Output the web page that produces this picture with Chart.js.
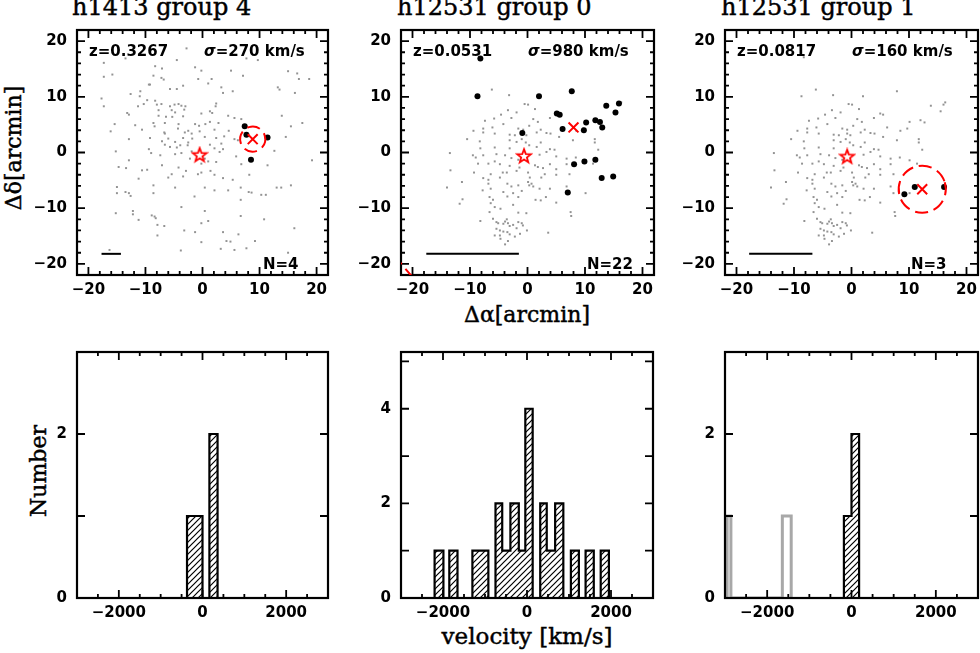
<!DOCTYPE html>
<html><head><meta charset="utf-8">
<script src="https://cdn.jsdelivr.net/npm/chart.js@4.4.0/dist/chart.umd.min.js"></script>
<style>
html,body{margin:0;padding:0;background:#fff;width:980px;height:653px;overflow:hidden;position:relative;}
canvas{position:absolute;}
.t{position:absolute;font-family:'DejaVu Serif',serif;color:#000;white-space:nowrap;line-height:1;-webkit-text-stroke:0.45px #000;}
.c{transform:translate(-50%,-50%);}
.r{transform:translate(-50%,-50%) rotate(-90deg);}
</style></head><body>
<div class="t" style="left:72px;top:-5px;font-size:24px">h1413 group 4</div>
<div class="t" style="left:397px;top:-5px;font-size:24px">h12531 group 0</div>
<div class="t" style="left:721px;top:-5px;font-size:24px">h12531 group 1</div>
<div class="t r" style="left:14px;top:148px;font-size:22px">Δδ[arcmin]</div>
<div class="t c" style="left:527px;top:315px;font-size:22px">Δα[arcmin]</div>
<div class="t r" style="left:39px;top:471px;font-size:22px">Number</div>
<div class="t c" style="left:527px;top:636px;font-size:23px">velocity [km/s]</div>
<script>
// ---------------- DATA ----------------
const panelTitles = ['h1413 group 4','h12531 group 0','h12531 group 1'];
const redshifts = ['0.3267','0.0531','0.0817'];
const sigmas = [270, 980, 160];
const memberCounts = [4, 22, 3];
const positionTicks = [-20, -10, 0, 10, 20];
const velocityTicks = [-2000, 0, 2000];
const numberTicks = [0, 2, 4];

const fieldH1413 = [[-2.8,18.7],[-17.3,16.1],[-13.5,16.9],[-4.5,16.6],[-1.3,15.3],[-8.3,15.5],[-7.1,15.1],[7.7,16.9],[9.7,16.6],[-0.2,14.7],[-8.6,13.8],[-7.2,13.4],[-6.8,13.1],[-17.3,13.6],[-15.8,14.0],[-0.75,13.2],[1.6,13.2],[5.0,14.7],[7.1,13.8],[15.0,14.6],[16.6,14.2],[16.9,13.2],[18.7,13.2],[1.0,12.4],[-9.4,12.2],[-9.2,12.2],[-3.4,12.0],[-5.7,11.4],[-4.5,11.4],[13.2,11.7],[13.5,11.3],[3.3,11.7],[-10.9,11.0],[-12.6,10.5],[-11.0,10.1],[5.3,11.0],[3.6,10.7],[16.2,10.7],[-17.7,9.7],[-9.7,9.4],[-10.3,8.7],[-8.3,9.3],[-8.0,8.6],[-7.2,8.7],[-5.7,8.3],[-4.9,8.6],[-4.2,8.7],[-3.7,8.4],[-3.0,8.3],[2.4,8.8],[2.3,8.3],[-17.3,8.3],[-11.3,8.3],[-13.2,7.1],[-12.9,6.8],[-7.7,7.6],[-5.4,7.6],[-4.8,7.2],[-3.2,7.7],[1.3,7.4],[1.7,7.1],[-0.2,7.0],[-7.7,6.6],[-6.4,6.4],[-5.3,6.4],[-3.4,6.5],[4.5,6.6],[5.6,6.2],[13.9,6.6],[-15.4,5.1],[-11.8,4.9],[-8.6,5.3],[-8.4,4.7],[-6.6,5.3],[-4.2,5.1],[-1.3,5.1],[-0.6,4.8],[0.5,5.1],[1.3,5.5],[2.8,5.3],[6.8,6.0],[15.5,4.7],[17.5,5.3],[-16.1,3.8],[-10.6,4.1],[-6.7,3.6],[-6.6,3.4],[-4.3,4.3],[-3.1,3.6],[-1.9,3.4],[-2.5,3.9],[-0.5,3.8],[2.1,4.1],[4.6,3.9],[-12.9,2.4],[-9.2,2.6],[-7.1,2.0],[-6.0,2.5],[-4.8,1.9],[-3.4,2.6],[-2.5,1.8],[-1.8,2.5],[0.4,2.8],[2.4,2.6],[3.8,2.9],[5.6,2.4],[6.2,2.2],[14.6,2.8],[-6.6,1.4],[-5.7,1.0],[-4.5,0.9],[-3.9,1.3],[-2.6,1.3],[1.3,1.4],[3.3,1.6],[2.1,0.75],[-15.2,0.2],[-9.4,0.6],[-9.0,-0.1],[-7.4,-0.5],[-4.8,-0.3],[-3.7,-0.1],[-1.9,0.2],[3.0,0.1],[3.6,0.6],[5.9,-0.7],[12.6,0.3],[-12.9,-1.4],[-2.2,-1.1],[0.4,-1.1],[1.0,-1.6],[2.4,-1.7],[19.2,-1.4],[-14.7,-2.6],[-13.4,-2.8],[-7.1,-2.3],[-4.2,-2.7],[-0.2,-2.0],[1.4,-3.3],[6.8,-2.1],[11.4,-2.3],[-10.6,-3.2],[-9.7,-3.1],[-2.9,-3.3],[-0.2,-3.6],[-0.8,-3.9],[-5.4,-3.9],[-6.0,-4.5],[-3.4,-4.3],[2.1,-4.0],[3.6,-4.6],[5.3,-4.9],[8.2,-4.0],[-11.2,-4.7],[-15.0,-6.2],[-8.6,-5.9],[-4.8,-6.3],[0.4,-6.3],[2.1,-6.8],[4.5,-6.8],[8.1,-7.1],[8.6,-7.2],[6.7,-6.3],[13.0,-6.3],[13.8,-6.3],[15.5,-5.9],[-15.0,-7.3],[-13.5,-7.1],[-12.9,-7.3],[-12.6,-7.8],[-8.6,-7.3],[-1.4,-7.9],[6.7,-8.5],[10.3,-7.6],[11.1,-7.6],[-3.7,-9.8],[-12.2,-10.5],[-12.2,-11.1],[-15.2,-10.9],[0.4,-10.5],[-8.9,-11.3],[-8.4,-11.5],[-8.2,-11.8],[-11.2,-12.1],[1.0,-12.3],[6.7,-11.4],[10.8,-12.0],[-0.2,-12.7],[-7.9,-13.0],[-6.7,-13.2],[-3.2,-14.0],[-1.3,-14.3],[-7.9,-14.9],[3.6,-14.3],[6.3,-14.7],[16.1,-13.6],[4.2,-15.9],[4.9,-16.0],[9.2,-15.9],[3.2,-17.3],[5.6,-17.5],[7.7,-17.2],[-3.8,-17.6],[-16.3,-17.5],[-0.2,-16.1],[15.0,-18.0]];

const fieldH12531 = [[-8.3,17.1],[-6.2,11.3],[-3.2,10.3],[-8.7,10.1],[2.0,10.1],[7.9,11.0],[-0.5,8.7],[0.1,8.6],[16.3,9.0],[16.0,8.6],[13.8,8.4],[-4.6,6.8],[-3.4,7.6],[-1.9,7.2],[1.3,7.8],[5.0,7.0],[5.5,6.8],[15.5,7.4],[-5.8,6.1],[-7.4,5.7],[-2.8,6.2],[1.0,6.0],[1.8,5.5],[3.9,6.2],[12.0,5.8],[12.7,5.4],[10.1,5.5],[-7.7,4.3],[-6.1,4.5],[-4.2,5.1],[-1.6,4.3],[-0.75,4.1],[0.3,4.8],[2.3,4.1],[6.2,4.5],[8.5,3.9],[9.7,4.3],[-9.4,3.9],[-7.7,3.6],[-5.7,3.4],[-3.1,3.2],[-2.2,3.1],[-0.75,3.4],[-0.2,3.1],[1.6,3.6],[3.3,3.5],[4.0,3.4],[5.5,2.8],[-10.5,2.4],[-8.3,2.0],[-3.1,2.2],[-1.9,1.9],[-1.0,2.4],[-0.3,1.8],[0.3,1.3],[2.3,1.8],[7.9,2.2],[11.7,2.4],[11.7,1.8],[-8.2,0.75],[-5.7,0.9],[-3.1,0.75],[1.6,1.0],[3.9,0.6],[4.7,0.5],[12.3,0.5],[-13.5,-0.1],[-9.5,-0.5],[-9.0,-0.9],[-7.7,-0.5],[-5.4,-0.3],[-3.9,-0.5],[-2.8,-1.0],[-1.6,-1.3],[2.1,-0.4],[3.3,0.1],[5.0,-0.7],[6.8,-1.1],[8.4,-0.9],[10.1,-1.4],[11.4,-2.0],[-8.6,-2.0],[-6.8,-2.0],[-5.7,-1.6],[-4.8,-2.1],[-3.1,-2.4],[-1.4,-2.7],[1.3,-2.3],[1.8,-2.6],[2.7,-2.8],[3.9,-2.1],[6.8,-2.1],[5.0,-3.0],[-13.4,-3.2],[-9.3,-3.6],[-6.4,-3.9],[-4.3,-3.6],[-3.6,-3.6],[-1.9,-3.3],[0.1,-3.6],[3.0,-3.9],[5.0,-4.0],[7.3,-3.9],[-7.7,-4.6],[-6.8,-4.9],[-4.8,-4.5],[0.4,-4.5],[2.4,-4.5],[0.1,-5.3],[0.7,-5.6],[0.3,-5.9],[1.0,-6.1],[-11.4,-5.3],[-6.8,-5.6],[-3.5,-5.6],[-2.8,-6.1],[-1.6,-5.9],[6.8,-6.1],[-14.0,-6.3],[-7.8,-6.8],[-6.4,-6.5],[-4.2,-7.1],[-2.5,-7.3],[-1.0,-6.9],[2.1,-6.5],[3.9,-6.5],[7.3,-7.3],[10.1,-7.3],[-11.3,-8.4],[-6.6,-8.0],[-6.0,-8.5],[-3.5,-7.9],[-1.6,-8.0],[1.4,-8.5],[2.3,-8.6],[3.2,-8.0],[5.0,-9.0],[-11.8,-9.2],[-6.4,-9.1],[-2.5,-9.4],[-5.7,-9.8],[-4.7,-10.1],[7.5,-10.7],[7.6,-11.4],[-6.6,-10.7],[-1.6,-10.8],[-0.2,-10.9],[-8.2,-12.3],[-6.0,-11.9],[-3.6,-12.0],[-5.4,-12.5],[-5.1,-12.7],[-4.2,-12.8],[-3.9,-12.4],[-3.4,-12.7],[-3.1,-13.2],[-2.5,-13.0],[-1.9,-13.6],[-1.0,-12.7],[-0.1,-14.0],[-5.4,-13.7],[-4.8,-14.0],[-4.2,-14.2],[-3.5,-14.3],[-3.1,-14.7],[-2.2,-15.1],[-4.8,-14.9],[-4.7,-15.5],[-3.4,-15.9],[-3.9,-16.5],[-5.7,-14.9],[3.6,-14.4],[-1.3,-14.6],[-1.6,-12.5],[-0.8,-13.1]];

const membersG4 = [[7.4,4.7],[7.7,3.2],[11.4,2.7],[8.5,-1.3]];
const membersG0 = [[-8.2,16.9],[-8.7,10.1],[2.0,10.1],[7.7,11.0],[5.1,7.0],[5.6,6.8],[-0.9,3.5],[6.1,4.2],[9.8,4.0],[10.2,5.4],[11.8,5.8],[12.6,5.5],[13.0,4.5],[13.7,8.4],[15.3,7.2],[15.9,8.8],[8.1,-2.1],[9.9,-1.6],[11.8,-1.3],[12.9,-4.6],[14.9,-4.3],[7.0,-7.2]];
const membersG1 = [[9.2,-7.5],[11.0,-6.2],[16.1,-6.2]];

const groupCenters = [[8.8,2.4],[8.0,4.5],[12.3,-6.6]];
const groupRadii = [2.2, 38.2, 4.1];
const clusterCenters = [[-0.5,-0.4],[-0.6,-0.6],[-0.75,-0.7]];
const scaleBarStart = [-17.7, -17.6, -17.8];
const scaleBarEnd = [-14.3, -1.5, -6.8];
const scaleBarDec = -18.2;

// histograms: bin left edge, right edge, count
const histG4Left = [-370, 165];
const histG4Right = [0, 360];
const histG4Count = [1, 2];
const histG0Left = [-2200, -1850, -1300, -750, -590, -395, -195, -40, 315, 470, 670, 1045, 1395, 1755];
const histG0Right = [-1990, -1655, -920, -590, -395, -195, -40, 135, 470, 670, 865, 1235, 1590, 1950];
const histG0Count = [1, 1, 1, 2, 1, 2, 1, 4, 2, 1, 2, 1, 1, 1];
const histG1Left = [-180, 0];
const histG1Right = [0, 180];
const histG1Count = [1, 2];
const histG1OtherLeft = [-2950, -1640];
const histG1OtherRight = [-2860, -1430];
const histG1OtherCount = [1, 1];
const histYMax = [3, 5.2, 3];

// ---------------- HELPERS ----------------
const fmt = v => v < 0 ? '\u2212' + Math.abs(v) : String(v);
const pts = arr => arr.map(p => ({x: p[0], y: p[1]}));

function starImage() {
  const c = document.createElement('canvas'); c.width = 18; c.height = 18;
  const g = c.getContext('2d'); g.strokeStyle = '#ff0000'; g.lineWidth = 1.8; g.lineJoin = 'miter';
  g.beginPath();
  for (let i = 0; i < 10; i++) {
    const r = i % 2 ? 3.0 : 7.2, a = -Math.PI / 2 + i * Math.PI / 5;
    const px = 9 + r * Math.cos(a), py = 9.6 + r * Math.sin(a);
    i ? g.lineTo(px, py) : g.moveTo(px, py);
  }
  g.closePath(); g.stroke(); return c;
}
function hatch(color) {
  const c = document.createElement('canvas'); c.width = 6; c.height = 6;
  const g = c.getContext('2d'); g.strokeStyle = color; g.lineWidth = 1.2;
  g.beginPath(); g.moveTo(-1, 7); g.lineTo(7, -1); g.moveTo(-2, 2); g.lineTo(2, -2); g.moveTo(4, 8); g.lineTo(8, 4); g.stroke();
  return g.createPattern(c, 'repeat');
}
function outline(L, R, C) {
  const out = [], n = L.length;
  for (let i = 0; i < n; i++) {
    const prev = i > 0 && Math.abs(R[i - 1] - L[i]) < 1;
    const next = i < n - 1 && Math.abs(R[i] - L[i + 1]) < 1;
    if (!prev) out.push({x: L[i], y: 0});
    out.push({x: L[i], y: C[i]});
    out.push({x: R[i], y: C[i]});
    if (!next) out.push({x: R[i], y: 0});
  }
  return out;
}

const framePlugin = {
  id: 'frame',
  afterDatasetsDraw(chart, args, o) {
    const {ctx, chartArea: a, scales} = chart;
    ctx.save();
    ctx.strokeStyle = '#000'; ctx.lineWidth = 1.8;
    ctx.beginPath();
    const tick = (axis, s, step, len) => {
      if (!step) return;
      const i0 = Math.ceil(s.min / step - 1e-9), i1 = Math.floor(s.max / step + 1e-9);
      for (let i = i0; i <= i1; i++) {
        const p = s.getPixelForValue(i * step);
        if (axis === 'x') { ctx.moveTo(p, a.bottom); ctx.lineTo(p, a.bottom - len); ctx.moveTo(p, a.top); ctx.lineTo(p, a.top + len); }
        else { ctx.moveTo(a.left, p); ctx.lineTo(a.left + len, p); ctx.moveTo(a.right, p); ctx.lineTo(a.right - len, p); }
      }
    };
    tick('x', scales.x, o.xMinor, 4); tick('x', scales.x, o.xMajor, 8);
    tick('y', scales.y, o.yMinor, 4); tick('y', scales.y, o.yMajor, 8);
    ctx.stroke();
    ctx.lineWidth = 2.2;
    ctx.strokeRect(a.left, a.top, a.right - a.left, a.bottom - a.top);
    ctx.restore();
  }
};
const circlePlugin = {
  id: 'grpcircle',
  afterDatasetsDraw(chart, args, o) {
    if (!o.center) return;
    const {ctx, chartArea: a, scales} = chart;
    const cx = scales.x.getPixelForValue(o.center[0]), cy = scales.y.getPixelForValue(o.center[1]);
    const r = scales.x.getPixelForValue(o.center[0] + o.radius) - cx;
    ctx.save();
    ctx.beginPath(); ctx.rect(a.left, a.top, a.right - a.left, a.bottom - a.top); ctx.clip();
    ctx.strokeStyle = '#ff0000'; ctx.lineWidth = 2; ctx.setLineDash([13, 6]);
    ctx.beginPath(); ctx.arc(cx, cy, r, -0.3, Math.PI * 2 - 0.3); ctx.stroke();
    ctx.restore();
  }
};
const notesPlugin = {
  id: 'notes',
  afterDraw(chart, args, o) {
    if (!o.items) return;
    const {ctx, chartArea: a} = chart;
    ctx.save(); ctx.fillStyle = '#000'; ctx.textBaseline = 'alphabetic'; ctx.textAlign = 'left';
    for (const it of o.items) {
      let x = a.left + it.dx;
      for (const part of it.parts) {
        ctx.font = (part.italic ? 'italic ' : '') + 'bold 15px "DejaVu Sans"';
        ctx.fillText(part.t, x, a.top + it.dy);
        x += ctx.measureText(part.t).width;
      }
    }
    ctx.restore();
  }
};
Chart.register(framePlugin, circlePlugin, notesPlugin);

function makeCanvas(L, T, W, H) {
  const c = document.createElement('canvas');
  const cw = W + 90, ch = H + 40;
  c.width = cw; c.height = ch;
  c.style.left = (L - 70) + 'px'; c.style.top = (T - 10) + 'px';
  c.style.width = cw + 'px'; c.style.height = ch + 'px';
  document.body.appendChild(c);
  return c;
}
const tickFont = {family: 'DejaVu Sans', weight: 'bold', size: 15};
function axes(xmin, xmax, xTicks, ymin, ymax, yTicks) {
  const setTicks = arr => function (s) { s.ticks = arr.filter(v => v >= s.min && v <= s.max).map(v => ({value: v})); };
  return {
    x: {type: 'linear', min: xmin, max: xmax, grid: {display: false, drawTicks: false}, border: {display: false},
        ticks: {autoSkip: false, maxRotation: 0, padding: 6, color: '#000', font: tickFont, callback: fmt},
        afterBuildTicks: setTicks(xTicks),
        afterFit(s) { s.height = 30; }},
    y: {type: 'linear', min: ymin, max: ymax, grid: {display: false, drawTicks: false}, border: {display: false},
        ticks: {autoSkip: false, padding: 10, color: '#000', font: tickFont, callback: fmt},
        afterBuildTicks: setTicks(yTicks),
        afterFit(s) { s.width = 70; }}
  };
}
const baseOpts = {responsive: false, animation: false, events: [], devicePixelRatio: 1,
  layout: {padding: {top: 10, right: 20, left: 0, bottom: 0}}};

// ---------------- TOP PANELS ----------------
const topGeom = [[77, 21, 251, 254], [401, 21, 253, 254], [725, 21, 253, 254]];
const fields = [fieldH1413, fieldH12531, fieldH12531];
const members = [membersG4, membersG0, membersG1];
const star = starImage();
topGeom.forEach((g, i) => {
  const c = makeCanvas(...g);
  new Chart(c, {
    type: 'scatter',
    data: {datasets: [
      {data: pts([groupCenters[i]]), pointStyle: 'crossRot', pointRadius: 7, borderColor: '#ff0000', borderWidth: 2, backgroundColor: '#ff0000'},
      {data: pts([clusterCenters[i]]), pointStyle: star, pointRadius: 9},
      {data: [{x: scaleBarStart[i], y: scaleBarDec}, {x: scaleBarEnd[i], y: scaleBarDec}], showLine: true, pointRadius: 0, borderColor: '#000', borderWidth: 2},
      {data: pts(members[i]), pointStyle: 'circle', pointRadius: 3, backgroundColor: '#000', borderWidth: 0},
      {data: pts(fields[i]), pointStyle: 'rect', pointRadius: 1.4, backgroundColor: '#939393', borderWidth: 0}
    ]},
    options: Object.assign({}, baseOpts, {
      scales: axes(-22, 22, positionTicks, -22, 22, positionTicks),
      plugins: {legend: {display: false}, tooltip: {enabled: false},
        frame: {xMinor: 2, xMajor: 10, yMinor: 2, yMajor: 10},
        grpcircle: {center: groupCenters[i], radius: groupRadii[i]},
        notes: {items: [
          {dx: 12, dy: 26, parts: [{t: 'z=' + redshifts[i]}]},
          {dx: 127, dy: 26, parts: [{t: 'σ', italic: true}, {t: '=' + sigmas[i] + ' km/s'}]},
          {dx: 186, dy: 239, parts: [{t: 'N=' + memberCounts[i]}]}
        ]}}
    })
  });
});

// ---------------- BOTTOM PANELS ----------------
const botGeom = [[77, 343, 251, 255], [401, 343, 252, 255], [725, 343, 253, 255]];
const hists = [
  [outline(histG4Left, histG4Right, histG4Count)],
  [outline(histG0Left, histG0Right, histG0Count)],
  [outline(histG1Left, histG1Right, histG1Count), outline(histG1OtherLeft, histG1OtherRight, histG1OtherCount)]
];
botGeom.forEach((g, i) => {
  const c = makeCanvas(...g);
  const ds = [{data: hists[i][0], showLine: true, pointRadius: 0, borderColor: '#000', borderWidth: 2.2,
               fill: 'origin', backgroundColor: hatch('#000'), tension: 0}];
  if (hists[i][1]) ds.push({data: hists[i][1], showLine: true, pointRadius: 0, borderColor: '#a8a8a8', borderWidth: 3, fill: false, tension: 0});
  new Chart(c, {
    type: 'scatter',
    data: {datasets: ds},
    options: Object.assign({}, baseOpts, {
      scales: axes(-3000, 3000, velocityTicks, 0, histYMax[i], numberTicks),
      plugins: {legend: {display: false}, tooltip: {enabled: false},
        frame: {xMinor: 500, xMajor: 2000, yMinor: 0, yMajor: 1}}
    })
  });
});
</script>
</body></html>
